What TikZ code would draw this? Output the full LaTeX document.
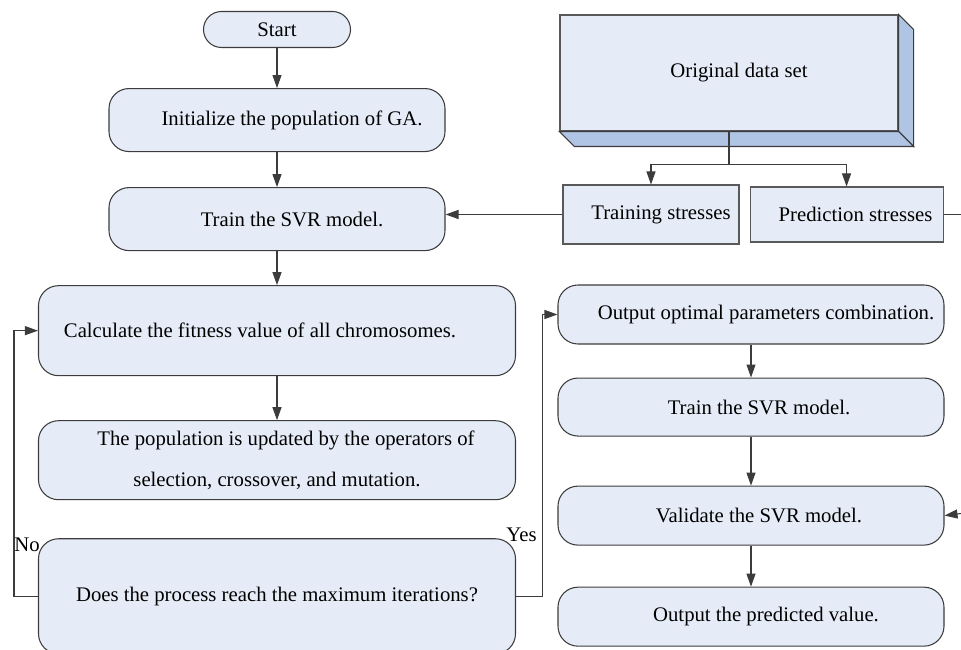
\documentclass[tikz,border=0pt]{standalone}
\usepackage{fontspec}
\setmainfont{Liberation Serif}
\newfontfamily\timesfont{Liberation Serif}
\usetikzlibrary{positioning, arrows.meta, calc}

\definecolor{boxfill}{HTML}{E6ECF7}
\definecolor{sidefill}{HTML}{B0C4E4}
\definecolor{edgegray}{HTML}{3C3C3C}

\tikzset{
  proc/.style={draw=edgegray, fill=boxfill, rounded corners=0.4cm,
               line width=0.6pt, inner sep=2pt, align=center,
               font=\timesfont\fontsize{11.8}{14}\selectfont},
  terminal/.style={proc, rounded corners=0.36cm},
  store/.style={proc, rounded corners=0pt, draw=edgegray!85},
  tag/.style={inner sep=0pt, font=\timesfont\fontsize{11.8}{14}\selectfont},
  flow/.style={-{Triangle[length=0.26cm,width=0.18cm]}, draw=edgegray, line width=0.6pt},
  wire/.style={draw=edgegray, line width=0.6pt},
}

\begin{document}
\begin{tikzpicture}
  \useasboundingbox (0,0) rectangle (19.22,-13);

  % GA loop
  \node[terminal, minimum width=2.94cm, minimum height=0.72cm] (start) at (5.54,-0.59) {Start};
  \node[proc, minimum width=6.72cm, minimum height=1.26cm, below=0.8cm of start] (init) {\hspace*{0.6cm}Initialize the population of GA.};
  \node[proc, minimum width=6.72cm, minimum height=1.26cm, below=0.7cm of init] (train) {\hspace*{0.6cm}Train the SVR model.};
  \node[proc, minimum width=9.54cm, minimum height=1.8cm, below=0.68cm of train] (fitness) {Calculate the fitness value of all chromosomes.\hspace*{0.68cm}};
  \node[proc, minimum width=9.54cm, minimum height=1.58cm, below=0.88cm of fitness] (update)
    {\hspace*{0.36cm}The population is updated by the operators of\\[9.8pt] selection, crossover, and mutation.};
  \node[proc, minimum width=9.54cm, minimum height=2.3cm, below=0.76cm of update] (maxiter) {Does the process reach the maximum iterations?};

  % data
  \node[store, minimum width=6.76cm, minimum height=2.32cm] (data) at (14.58,-1.46) {\hspace*{0.4cm}Original data set};
  \filldraw[fill=sidefill, wire] (data.north east) -- ++(0.3,-0.3) -- ($(data.south east)+(0.3,-0.3)$) -- (data.south east) -- cycle;
  \filldraw[fill=sidefill, wire] (data.south west) -- ++(0.3,-0.3) -- ($(data.south east)+(0.3,-0.3)$) -- (data.south east) -- cycle;
  \node[store, minimum width=3.52cm, minimum height=1.18cm] (trainset) at (13.02,-4.29) {\hspace*{0.4cm}Training stresses};
  \node[store, minimum width=3.86cm, minimum height=1.1cm, right=0.2cm of trainset] (testset) {\hspace*{0.36cm}Prediction stresses};

  % final model
  \node[proc, minimum width=7.72cm, minimum height=1.18cm] (optimum) at (15.02,-6.29) {\hspace*{0.6cm}Output optimal parameters combination.};
  \node[proc, minimum width=7.72cm, minimum height=1.16cm, below=0.66cm of optimum] (train2) {\hspace*{0.32cm}Train the SVR model.};
  \node[proc, minimum width=7.72cm, minimum height=1.18cm, below=0.98cm of train2] (validate) {\hspace*{0.32cm}Validate the SVR model.};
  \node[proc, minimum width=7.72cm, minimum height=1.18cm, below=0.82cm of validate] (predict) {\hspace*{0.6cm}Output the predicted value.};

  \coordinate (split) at ($(data.south)+(0,-0.66)$);
  \coordinate (rimtop) at (19.22,-4.29);
  \coordinate (rimlow) at (19.22,-10.27);

  \draw[flow] (start) -- (init);
  \draw[flow] (init) -- (train);
  \draw[flow] (train) -- (fitness);
  \draw[flow] (fitness) -- (update);

  \draw[wire] (data.south) -- (split);
  \draw[flow] (split) -| (trainset.north);
  \draw[flow] (split) -| (testset.north);
  \draw[flow] (trainset.west) -- (trainset.west -| train.east);
  \draw[wire] (testset.east) -- (rimtop);

  \draw[flow] (maxiter.west) -- ++(-0.48,0) |- (fitness.west);
  \draw[flow] (maxiter.east) -- ++(0.52,0) |- (optimum.west);
  \node[tag] (no) at ([xshift=-0.22cm, yshift=-0.14cm]maxiter.north west) {No};
  \node[tag] (yes) at ([xshift=0.11cm, yshift=0.07cm]maxiter.north east) {Yes};

  \draw[flow] (optimum) -- (train2);
  \draw[flow] (train2) -- (validate);
  \draw[flow] (validate) -- (predict);
  \draw[flow] (rimlow) -- (validate.east);

\end{tikzpicture}
\end{document}
